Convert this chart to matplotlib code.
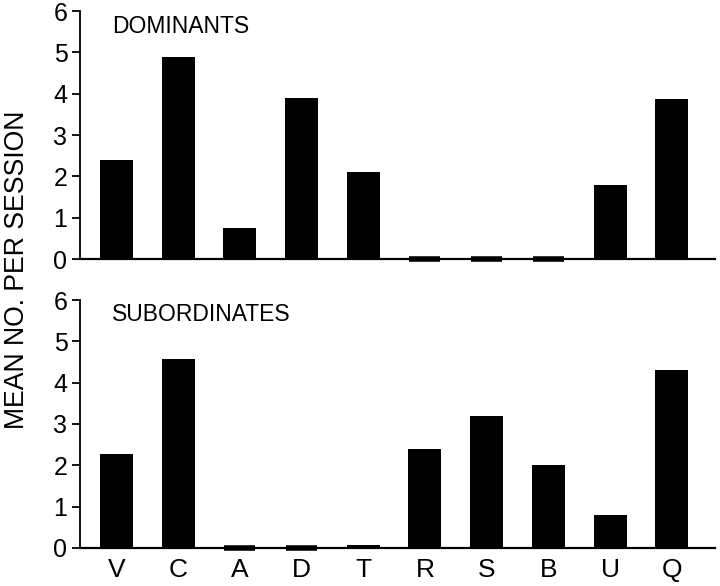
import matplotlib.pyplot as plt
import numpy as np

plt.rcParams['font.family'] = ['Liberation Sans', 'DejaVu Sans']

categories = ["V", "C", "A", "D", "T", "R", "S", "B", "U", "Q"]
dominants = [2.4, 4.9, 0.74, 3.9, 2.1, 0, 0, 0, 1.78, 3.88]
subordinates = [2.28, 4.58, 0, 0, 0.08, 2.4, 3.2, 2.0, 0.8, 4.3]

fig = plt.figure(figsize=(7.2, 5.86), dpi=100)
ax1 = fig.add_axes([0.111, 0.558, 0.882, 0.423])
ax2 = fig.add_axes([0.111, 0.065, 0.882, 0.423])

x = np.arange(len(categories))
for ax, vals, name in [(ax1, dominants, "DOMINANTS"), (ax2, subordinates, "SUBORDINATES")]:
    vals = np.array(vals)
    ax.bar(x, vals, width=0.535, color="black", linewidth=0)
    # zero values shown as a short thick dash on the axis
    zero = vals == 0
    zb = ax.bar(x[zero], vals[zero], width=0.5, color="black", edgecolor="black", linewidth=4)
    for p in zb:
        p.set_clip_on(False)
    ax.set_xlim(-0.59, 9.7)
    ax.set_ylim(0, 6)
    ax.set_yticks(range(7))
    ax.spines['top'].set_visible(False)
    ax.spines['right'].set_visible(False)
    ax.spines['left'].set_linewidth(1.3)
    ax.spines['bottom'].set_linewidth(1.6)
    ax.tick_params(axis='y', direction='out', length=6, width=1.3, labelsize=18, pad=3)
    ax.tick_params(axis='x', length=0, labelsize=19, pad=7)
    ax.text(0.05, 0.94, name, transform=ax.transAxes, fontsize=16.5, va='center', ha='left')

ax1.set_xticks(x)
ax1.set_xticklabels([])
ax2.set_xticks(x)
ax2.set_xticklabels(categories)

fig.text(0.024, 0.539, "MEAN NO. PER SESSION", rotation=90, fontsize=19.2, ha='center', va='center')

fig.savefig("out.png", dpi=100)
